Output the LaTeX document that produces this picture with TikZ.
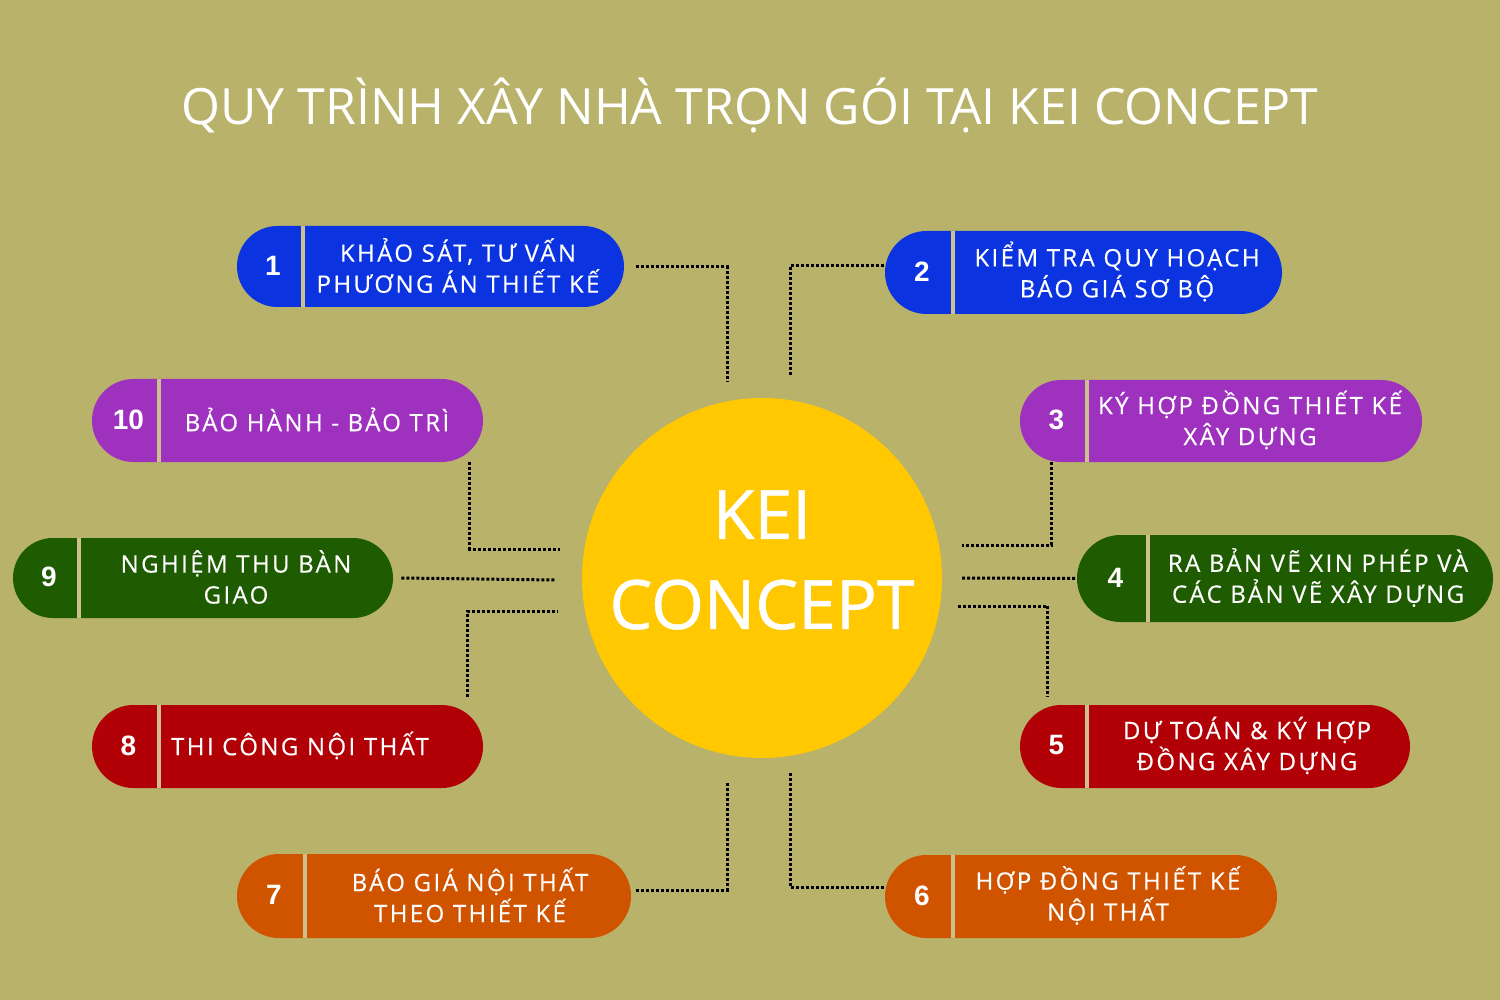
\documentclass[tikz,border=0pt]{standalone}
\usepackage{fontspec}
\setmainfont{Open Sans}
\newfontfamily\numfont{Liberation Sans}
\usetikzlibrary{positioning}
\definecolor{bgolive}{HTML}{B8B26A}
\definecolor{sepcol}{HTML}{CDBF8E}
\definecolor{kyellow}{HTML}{FFC800}
\definecolor{stepblue}{HTML}{0B33E0}
\definecolor{steppurple}{HTML}{9E32BF}
\definecolor{stepgreen}{HTML}{1F5B00}
\definecolor{stepred}{HTML}{B10006}
\definecolor{steporange}{HTML}{D05300}

\begin{document}
\begin{tikzpicture}[x=0.5pt,y=-0.5pt,
	pill/.style={rectangle,inner sep=0pt,draw=none},
	stepnum/.style={text=white,font=\numfont\bfseries\fontsize{14}{16}\selectfont},
	steptext/.style={text=white,align=center,inner sep=0pt,font=\fontsize{12}{15.5}\selectfont\addfontfeatures{LetterSpace=10,FakeBold=0.4}},
	link/.style={line width=1.5pt,dash pattern=on 1.5pt off 1pt},
	sepline/.style={draw=sepcol,line width=2pt}]
	\fill[bgolive] (0,0) rectangle (1500,1000);
	\useasboundingbox (0,0) rectangle (1500,1000);
	% title
	\node[anchor=base,text=white,font=\fontsize{25}{30}\selectfont] (title) at (750,125) {QUY TRÌNH XÂY NHÀ TRỌN GÓI TẠI KEI CONCEPT};
	% centre
	\node[circle,fill=kyellow,minimum size=180pt,inner sep=0pt] (kei) at (762,578) {};
	\node[text=white,align=center,font=\fontsize{34}{45}\selectfont\addfontfeatures{FakeBold=0.8}] (keilabel) at ([yshift=9pt]kei.center) {KEI\\CONCEPT};
	% steps
	\foreach \n/\xa/\ya/\xb/\yb/\xs/\xt/\col/\txt in {
		1/237/226/624/307/303/458/stepblue/{KHẢO SÁT, TƯ VẤN\\PHƯƠNG ÁN THIẾT KẾ},
		2/885/231/1282/314/953/1117/stepblue/{KIỂM TRA QUY HOẠCH\\BÁO GIÁ SƠ BỘ},
		3/1020/380/1422/462/1087/1250/steppurple/{KÝ HỢP ĐỒNG THIẾT KẾ\\XÂY DỰNG},
		4/1077/535/1493/622/1148/1318/stepgreen/{RA BẢN VẼ XIN PHÉP VÀ\\CÁC BẢN VẼ XÂY DỰNG},
		5/1020/705/1410/788/1087/1247/stepred/{DỰ TOÁN \& KÝ HỢP\\ĐỒNG XÂY DỰNG},
		6/885/855/1277/938/953/1108/steporange/{HỢP ĐỒNG THIẾT KẾ\\NỘI THẤT},
		7/237/854/631/938/305/470/steporange/{BÁO GIÁ NỘI THẤT\\THEO THIẾT KẾ},
		8/92/705/483/788/159/300/stepred/{THI CÔNG NỘI THẤT},
		9/13/538/393/618/79/236/stepgreen/{NGHIỆM THU BÀN\\GIAO},
		10/92/379/483/462/159/317/steppurple/{BẢO HÀNH - BẢO TRÌ}}
	{
		\pgfmathsetmacro\w{(\xb-\xa)/2}
		\pgfmathsetmacro\h{(\yb-\ya)/2}
		\pgfmathsetmacro\r{(\yb-\ya)/4}
		\node[pill,fill=\col,minimum width=\w pt,minimum height=\h pt,rounded corners=\r pt] (s\n) at ({(\xa+\xb)/2},{(\ya+\yb)/2}) {};
		\draw[sepline] (\xs,\ya) -- (\xs,\yb);
		\node[stepnum] (n\n) at ({(\xa+\xs)/2+3},{(\ya+\yb)/2-1}) {\n};
		\node[steptext] (t\n) at (\xt,{(\ya+\yb)/2-1}) {\txt};
	}
	% free ends near the circle
	\coordinate (k1) at (727,382);
	\coordinate (k2) at (790,375);
	\coordinate (k3) at (962,545);
	\coordinate (k4) at (962,578);
	\coordinate (k5) at (958,606);
	\coordinate (k6) at (790,773);
	\coordinate (k7) at (727,783);
	\coordinate (k8) at (557,611);
	\coordinate (k9) at (555,580);
	\coordinate (k10) at (560,549);
	% links
	\draw[link] ([xshift=6pt]s1.east) -| (k1);
	\draw[link] (k2) |- ([yshift=3.5pt]s2.west);
	\draw[link] ([xshift=16pt]s3.south west) |- (k3);
	\draw[link] (k4) -- (s4.west);
	\draw[link] (k5) -| ([xshift=14pt,yshift=4pt]s5.north west);
	\draw[link] (k6) |- ([yshift=4.75pt]s6.west);
	\draw[link] ([xshift=2.5pt,yshift=3pt]s7.east) -| (k7);
	\draw[link] ([xshift=-8pt,yshift=4pt]s8.north east) |- (k8);
	\draw[link] ([xshift=4pt]s9.east) -- (k9);
	\draw[link] ([xshift=-7pt]s10.south east) |- (k10);
\end{tikzpicture}
\end{document}
